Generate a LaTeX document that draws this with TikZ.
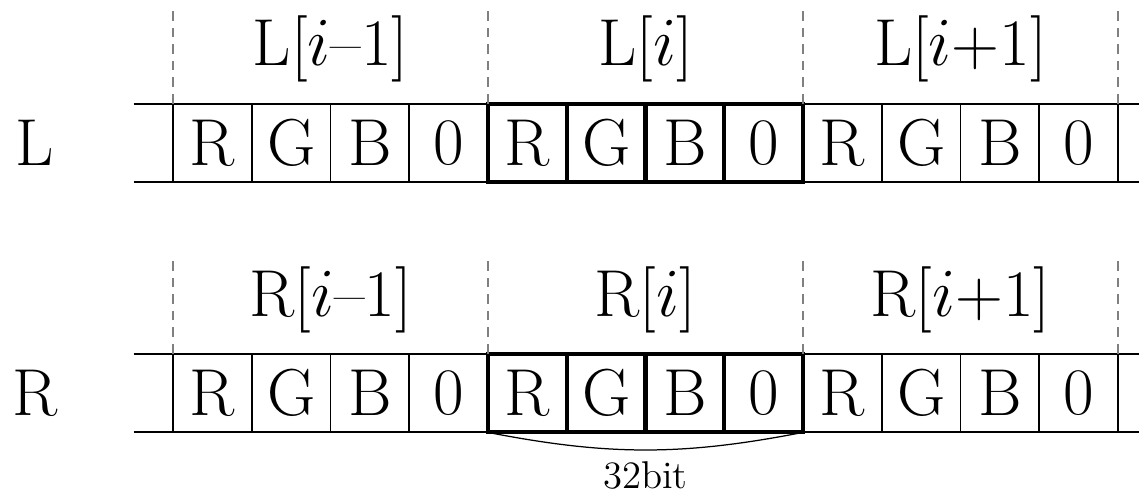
\documentclass[tikz,border=0pt]{standalone}
\begin{document}
\begin{tikzpicture}[x=1cm,y=1cm,
  cell/.style={draw,line width=0.7pt,minimum size=1cm,inner sep=0pt,outer sep=0pt,font=\fontsize{24}{28}\selectfont},
  wordbox/.style={line width=1.5pt},
  rail/.style={line width=0.7pt},
  sep/.style={gray,line width=0.5pt,dash pattern=on 3.5pt off 2.5pt},
  lbl/.style={anchor=base,font=\fontsize{24}{28}\selectfont}]
  \useasboundingbox (-2.197,0) rectangle (12.267,6.26);

  % Hàng L
  \foreach \c [count=\i from 0] in {R,G,B,0,R,G,B,0,R,G,B,0}
    \node[cell] (L\i) at (\i+0.5,4.444) {\c};
  \draw[rail] ([xshift=-0.5cm]L0.north west) -- ([xshift=0.5cm]L11.north east);
  \draw[rail] ([xshift=-0.5cm]L0.south west) -- ([xshift=0.5cm]L11.south east);
  \foreach \i in {4,...,7}
    \draw[wordbox] (L\i.south west) rectangle (L\i.north east);
  \node[font=\fontsize{24}{28}\selectfont] (Lname) at (-1.752,4.444) {L};

  % Ranh giới và nhãn của L
  \foreach \i in {0,4,8}
    \draw[sep] (L\i.north west) -- ++(0,1.23);
  \draw[sep] (L11.north east) -- ++(0,1.23);
  \node[lbl] (Lprev) at (2,5.422) {L[$i$--1]};
  \node[lbl] (Lcur) at (6,5.422) {L[$i$]};
  \node[lbl] (Lnext) at (10,5.422) {L[$i$+1]};

  % Hàng R
  \foreach \c [count=\i from 0] in {R,G,B,0,R,G,B,0,R,G,B,0}
    \node[cell] (R\i) at (\i+0.5,1.269) {\c};
  \draw[rail] ([xshift=-0.5cm]R0.north west) -- ([xshift=0.5cm]R11.north east);
  \draw[rail] ([xshift=-0.5cm]R0.south west) -- ([xshift=0.5cm]R11.south east);
  \foreach \i in {4,...,7}
    \draw[wordbox] (R\i.south west) rectangle (R\i.north east);
  \node[font=\fontsize{24}{28}\selectfont] (Rname) at (-1.752,1.269) {R};

  % Ranh giới và nhãn của R
  \foreach \i in {0,4,8}
    \draw[sep] (R\i.north west) -- ++(0,1.23);
  \draw[sep] (R11.north east) -- ++(0,1.23);
  \node[lbl] (Rprev) at (2,2.247) {R[$i$--1]};
  \node[lbl] (Rcur) at (6,2.247) {R[$i$]};
  \node[lbl] (Rnext) at (10,2.247) {R[$i$+1]};

  % Độ rộng một phần tử
  \draw[line width=0.45pt] (R4.south west) to[bend right=11]
    node[midway,below,inner sep=4pt,font=\fontsize{14}{17}\selectfont] (bits) {32bit} (R7.south east);
\end{tikzpicture}
\end{document}
